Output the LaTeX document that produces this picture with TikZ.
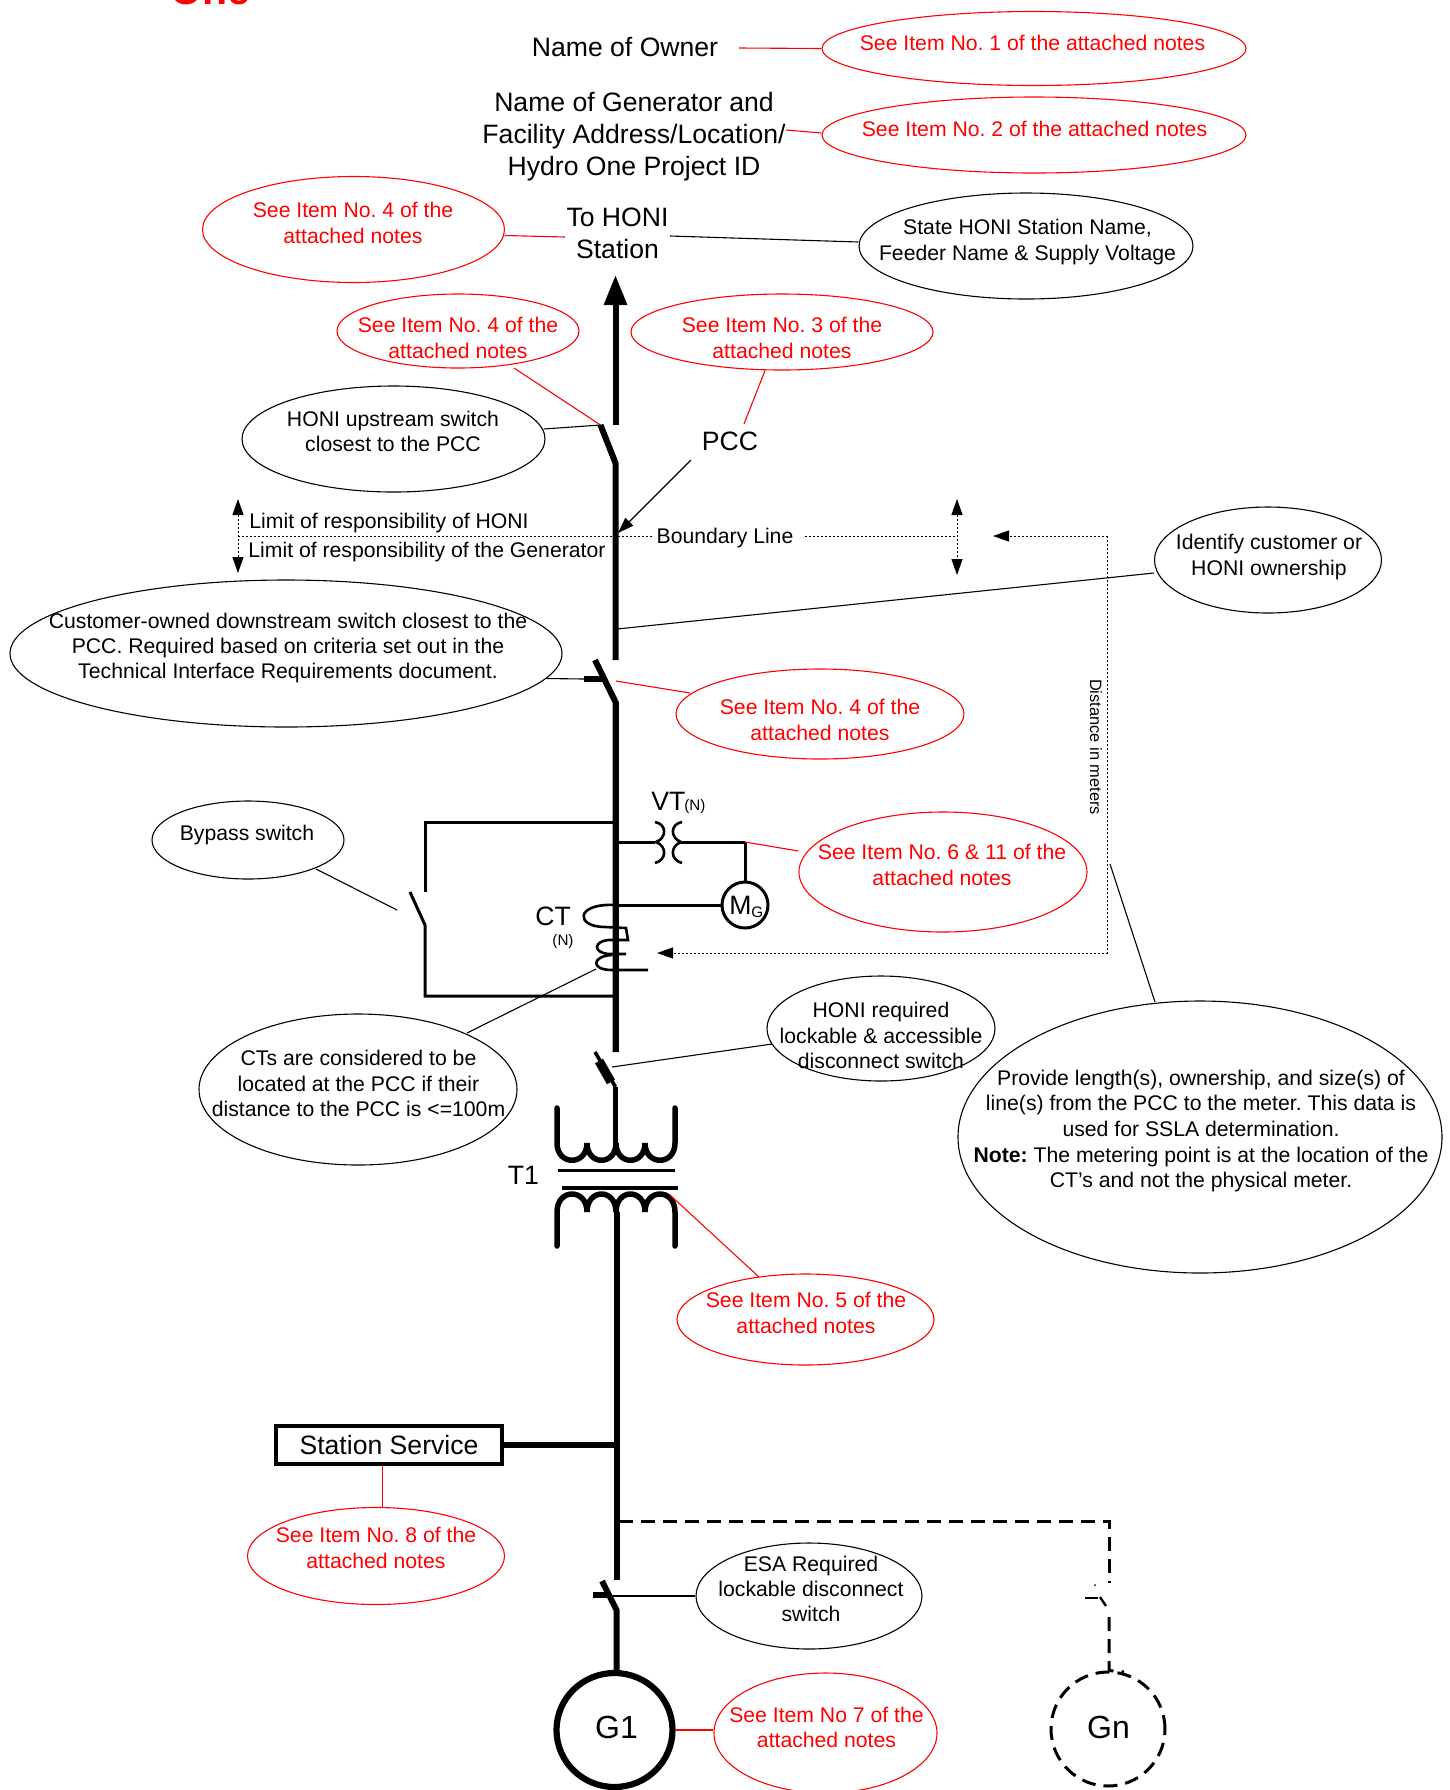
\documentclass[tikz,border=0pt]{standalone}
\usepackage{fontspec}
\setmainfont{Liberation Sans}
\usetikzlibrary{shapes.geometric,arrows.meta}
\definecolor{hored}{RGB}{255,0,0}
\tikzset{
 wh/.style 2 args={minimum width=#1*0.5pt,minimum height=#2*0.5pt},
 ell/.style={draw=black,line width=0.55pt,ellipse,inner sep=0pt},
 rell/.style={draw=hored,line width=0.55pt,ellipse,inner sep=0pt},
 txt/.style={font=\fontsize{10.6}{12.6}\selectfont,align=center,inner sep=0pt,text=black},
 rtxt/.style={txt,text=hored},
 big/.style={font=\fontsize{13.3}{16}\selectfont,align=center,inner sep=0pt},
 gname/.style={font=\fontsize{16}{18}\selectfont,inner sep=0pt},
 lead/.style={draw=black,line width=0.55pt},
 rlead/.style={draw=hored,line width=0.55pt},
 bus/.style={draw=black,line width=3pt},
 wire/.style={draw=black,line width=1.5pt},
 dotl/.style={draw=black,line width=0.5pt,dash pattern=on 1pt off 1pt},
 tip/.style={-{Triangle[length=8pt,width=5.5pt]}},
 tips/.style={{Triangle[length=8pt,width=5.5pt]}-{Triangle[length=8pt,width=5.5pt]}},
 dsh/.style={draw=black,line width=1.5pt,dash pattern=on 7pt off 4pt},
}
\begin{document}
\frenchspacing
\begin{tikzpicture}[x=0.5pt,y=-0.5pt]
\useasboundingbox (0,0) rectangle (1450,1790);
\fill[white] (0,0) rectangle (1450,1790);
% cut logo
\begin{scope}
\clip (0,0) rectangle (1450,1790);
\node[anchor=base,inner sep=0pt,text=hored,font=\fontsize{20.5}{24}\bfseries\selectfont] (logo) at (210,4) {One};
\end{scope}

% ---- named points
\coordinate (arrowtip) at (615.5,275);
\coordinate (sw1top) at (615.5,425);
\coordinate (sw1blade) at (600.5,425);
\coordinate (sw1hinge) at (615.5,463);
\coordinate (sw2end) at (615.5,660);
\coordinate (sw2blade) at (595,660);
\coordinate (sw2hinge) at (615.5,702);
\coordinate (busA) at (615.5,1052);
\coordinate (sw3top) at (595,1052);
\coordinate (sw3hinge) at (615.5,1087);
\coordinate (fuseA) at (599,1061);
\coordinate (fuseB) at (611,1082);
\coordinate (t1up) at (615.5,1145);
\coordinate (t1low) at (616.5,1212);
\coordinate (sw4top) at (616.5,1580);
\coordinate (sw4blade) at (602,1581);
\coordinate (sw4hinge) at (616.5,1610);

% ---- ellipses
\node[rell,wh={424}{74}] (e1) at (1034,48.5) {};
\node[rell,wh={424}{76}] (e2) at (1034,135) {};
\node[rell,wh={302}{106}] (e4a) at (353.5,229.5) {};
\node[ell,wh={334}{106}] (state) at (1026,246) {};
\node[rell,wh={242}{74}] (e4b) at (458,331) {};
\node[rell,wh={302}{76}] (e3) at (782,332) {};
\node[ell,wh={303}{106}] (up) at (393.5,439) {};
\node[ell,wh={227}{106}] (ident) at (1268,560) {};
\node[ell,wh={552}{147}] (cust) at (286,653.5) {};
\node[rell,wh={288}{90}] (e4c) at (820,714) {};
\node[rell,wh={288}{120}] (e6) at (943,872) {};
\node[ell,wh={192}{78}] (bypass) at (248,840) {};
\node[ell,wh={318}{151}] (ctn) at (358,1089.5) {};
\node[ell,wh={228}{105}] (lock) at (881,1028.5) {};
\node[ell,wh={484}{272}] (len) at (1200,1137) {};
\node[rell,wh={257}{91}] (e5) at (805.5,1319.5) {};
\node[rell,wh={257}{97}] (e8) at (376,1556) {};
\node[ell,wh={226}{106}] (esa) at (809,1596) {};
\node[rell,wh={223}{120}] (e7) at (825.5,1733) {};

% ---- labels
\node[big] (owner) at (625,47) {Name of Owner};
\node[big] (gen) at (634,137) {Name of Generator and\\Facility Address/Location/\\Hydro One Project ID};
\node[big] (station) at (617.5,233) {To HONI\\Station};
\node[big] (pcc) at (730,441) {PCC};
\node[txt] (bline) at (725,538) {Boundary Line};
\node[txt,anchor=west] (lim1) at (249,523) {Limit of responsibility of HONI};
\node[txt,anchor=west] (lim2) at (248,552.5) {Limit of responsibility of the Generator};

\coordinate (ownerR) at (739,48);
\coordinate (genR) at (786,130);
\coordinate (stL) at (565,237);
\coordinate (stR) at (670,236);
\coordinate (pccA) at (691,460);
\coordinate (pccT) at (618,533);
\coordinate (pccUp) at (744,424);
\coordinate (busI) at (617,629);
\coordinate (swTick) at (584,679);
\coordinate (swTickB) at (605,679);
\coordinate (sw2red) at (616,681);
\coordinate (e4bB) at (514,368);
\coordinate (e4cIn) at (690,693);

\draw[rlead] (ownerR) -- (e1.west);
\draw[rlead] (genR) -- (e2.west |- 0,133);
\draw[rlead] (e4a.east) ++(0,6) -- (stL);
\draw[lead] (stR) -- (state.west |- 0,242);
\draw[rlead] (e4bB) -- (sw1blade);
\draw[lead] (up.east) ++(-2,-10) -- (sw1blade);
\draw[rlead] (e3.south) ++(-17,0) -- (pccUp);
\draw[lead,tip] (pccA) -- (pccT);
\draw[lead] (busI) -- (ident.west |- 0,573);
\draw[lead] (cust.east) ++(-16,25) -- (swTick);
\draw[rlead] (sw2red) -- (e4cIn);

% ---- main bus
\draw[bus,-{Triangle[length=15pt,width=11pt]}] (sw1top) -- (arrowtip);
\draw[bus,line cap=butt] (sw1blade) -- (sw1hinge) -- (sw2end);
\draw[bus] (sw2blade) -- (sw2hinge) -- (busA);
\draw[bus] (swTick) -- (swTickB);
\draw[wire,line width=1.8pt] (sw3top) -- (sw3hinge);
\draw[draw=black,line width=2.7pt] (sw3hinge) -- (t1up);
\draw[draw=black,line width=4.6pt] (fuseA) -- (fuseB);

% ---- boundary dotted
\coordinate (bl) at (238,536);
\coordinate (blT) at (238,499);
\coordinate (blB) at (238,573);
\coordinate (brT) at (957,499);
\coordinate (brB) at (957,575);
\coordinate (br) at (957,536);
\coordinate (busB) at (615,536);
\draw[dotl] (bl) -- (busB) -- (653,536);
\draw[dotl] (805,536) -- (br);
\draw[dotl,tips] (blT) -- (blB);
\draw[dotl,tips] (brT) -- (brB);
\coordinate (d1) at (993,536);
\coordinate (d2) at (1107.5,536);
\coordinate (d3) at (1107.5,953);
\coordinate (d4) at (657,953);
\draw[dotl,tip] (d2) -- (d1);
\draw[dotl] (d2) -- (d3);
\draw[dotl,tip] (d3) -- (d4);
\node[inner sep=0pt,rotate=-90,font=\fontsize{8.2}{10}\selectfont] (dist) at (1096,747) {Distance in meters};

% ---- bypass
\coordinate (bpA) at (615,822);
\coordinate (bpB) at (425,822);
\coordinate (bpC) at (425,892);
\coordinate (bpD) at (410,892);
\coordinate (bpE) at (425,925);
\coordinate (bpF) at (425,996);
\coordinate (bpG) at (615,996);
\draw[wire] (bpA) -- (bpB) -- (bpC);
\draw[wire] (bpD) -- (bpE) -- (bpF) -- (bpG);
\coordinate (bpLead) at (397,910);
\draw[lead] (316,869) -- (bpLead);

% ---- VT
\coordinate (vtA) at (615,842);
\coordinate (vtB) at (655,842);
\coordinate (vtC) at (681,842);
\coordinate (vtD) at (745,842);
\draw[wire] (vtA) -- (vtB);
\draw[wire] (vtC) -- (vtD);
\draw[wire,line width=1.3pt] (655,822) .. controls (667,824) and (667,838) .. (656,842) .. controls (667,846) and (667,860) .. (655,863);
\draw[wire,line width=1.3pt] (682,822) .. controls (670,824) and (670,838) .. (681,842) .. controls (670,846) and (670,860) .. (682,863);
\node[draw=black,line width=1.5pt,circle,minimum size=23pt,inner sep=0pt] (meter) at (745,905) {};
\draw[wire] (vtD) -- (meter.north);
\draw[wire] (615,905) -- (meter.west);
\node[big,anchor=base west] (vt) at (651,810) {VT};
\node[inner sep=0pt,anchor=base west,font=\fontsize{7.6}{9}\selectfont] (vtn) at (684,810) {(N)};
\node[big,anchor=west] (ctl) at (535,916) {CT};
\node[inner sep=0pt,font=\fontsize{7.6}{9}\selectfont] (ctnn) at (563,942) {(N)};
\node[big,anchor=base west] (mm) at (729,914) {M};
\node[inner sep=0pt,anchor=base west,font=\fontsize{7.6}{9}\selectfont] (mg) at (751,917) {G};
\draw[rlead] (vtD) -- (e6.west |- 0,851);
% CT coils
\draw[wire,line width=1.3pt] (615,905) .. controls (575,903) and (575,927) .. (605,927) -- (626,928) -- (628,940) -- (609,940) .. controls (593,941) and (593,953) .. (609,954) -- (626,954);
\draw[wire,line width=1.3pt] (612,955) .. controls (592,956) and (590,970) .. (612,970) -- (648,970);
\draw[lead] (467,1033) -- (596,969);
\draw[bus] (615.5,702) -- (615.5,1052);

% lockable
\draw[lead] (612,1067) -- (772,1044);

% ---- transformer
\coordinate (tuL) at (557,1108);
\coordinate (tuR) at (675,1108);
\draw[bus,line width=2.75pt,line cap=round] (tuL) -- (557,1143) .. controls (557,1166) and (587,1166) .. (587,1143) .. controls (587,1166) and (616,1166) .. (616,1143) .. controls (616,1166) and (645,1166) .. (645,1143) .. controls (645,1166) and (675,1166) .. (675,1143) -- (tuR);
\draw[draw=black,line width=1.6pt] (558,1170.5) -- (675,1170.5);
\draw[draw=black,line width=2.2pt] (562,1188) -- (678,1188);
\draw[bus,line width=2.75pt,line cap=round] (557,1246) -- (557,1212) .. controls (557,1188) and (587,1188) .. (587,1212) .. controls (587,1188) and (616,1188) .. (616,1212) .. controls (616,1188) and (645,1188) .. (645,1212) .. controls (645,1188) and (675,1188) .. (675,1212) -- (675,1246);
\node[big] (t1) at (523.5,1175) {T1};
\coordinate (t1r) at (670,1195);
\draw[rlead] (t1r) -- (759,1277);
\draw[bus] (t1low) -- (sw4top);

% ---- station service
\node[draw=black,line width=1.7pt,wh={226}{38},inner sep=0pt,big] (ss) at (389,1445) {Station Service};
\coordinate (ssB) at (616.5,1445);
\draw[bus] (ss.east) -- (ssB);
\draw[rlead] (ss.south -| 382.5,0) -- (382.5,1508);

% ---- generators
\node[draw=black,line width=3.1pt,ellipse,wh={116}{114},inner sep=0pt] (g1) at (614.5,1730) {};
\draw[bus] (sw4blade) -- (sw4hinge) -- (g1.north -| sw4hinge);
\draw[bus] (593,1595) -- (607,1595);
\draw[lead] (612,1596) -- (esa.west);
\draw[rlead] (g1.east) -- (e7.west |- g1.east);

\coordinate (dsA) at (619,1521);
\coordinate (dsB) at (1109,1521);
\coordinate (dsC) at (1109,1583);
\coordinate (dsD) at (1100,1597);
\coordinate (dsE) at (1106,1606);
\coordinate (dsF) at (1109,1617);
\draw[dsh] (dsA) -- (dsB) -- (dsC);
\draw[draw=black,line width=1.2pt] (dsD) -- (dsE);
\draw[draw=black,line width=1.2pt] (1085,1598) -- (1098,1598);
\fill (1095,1585) circle (1);
\node[draw=black,line width=1.5pt,dash pattern=on 7pt off 4pt,circle,minimum size=57pt,inner sep=0pt] (gn) at (1108,1729) {};
\draw[dsh] (dsF) -- (gn.north -| dsF) -- (1124,1672);

% ---- texts
\node[rtxt] (t1a) at (1032.5,42.5) {See Item No. 1 of the attached notes};
\node[rtxt] (t2a) at (1034.5,129) {See Item No. 2 of the attached notes};
\node[rtxt] at (353,223) {See Item No. 4 of the\\attached notes};
\node[txt] at (1027.5,242) {State HONI Station Name,\\Feeder Name \& Supply Voltage};
\node[rtxt] at (458,338) {See Item No. 4 of the\\attached notes};
\node[rtxt] at (782,338) {See Item No. 3 of the\\attached notes};
\node[txt] at (393,431.5) {HONI upstream switch\\closest to the PCC};
\node[txt] at (1269,557) {Identify customer or\\HONI ownership};
\node[txt] at (288,648) {Customer-owned downstream switch closest to the\\PCC. Required based on criteria set out in the\\Technical Interface Requirements document.};
\node[rtxt] at (820,720) {See Item No. 4 of the\\attached notes};
\node[rtxt] at (942,865) {See Item No. 6 \& 11 of the\\attached notes};
\node[txt] at (247,835.5) {Bypass switch};
\node[txt] at (358.5,1083.5) {CTs are considered to be\\located at the PCC if their\\distance to the PCC is <=100m};
\node[txt] at (881,1035.5) {HONI required\\lockable \& accessible\\disconnect switch};
\node[txt,font=\fontsize{10.6}{12.8}\selectfont] at (1201,1131) {Provide length(s), ownership, and size(s) of\\line(s) from the PCC to the meter. This data is\\used for SSLA determination.\\\textbf{Note:} The metering point is at the location of the\\CT’s and not the physical meter.};
\node[rtxt] at (806,1313) {See Item No. 5 of the\\attached notes};
\node[rtxt] at (376,1548) {See Item No. 8 of the\\attached notes};
\node[txt] at (811,1589) {ESA Required\\lockable disconnect\\switch};
\node[rtxt] at (826.5,1727) {See Item No 7 of the\\attached notes};
\node[gname] at (616.5,1727) {G1};
\node[gname] at (1108.5,1727) {Gn};
\draw[lead] (1110,864) -- (1155,1002);
\end{tikzpicture}
\end{document}
